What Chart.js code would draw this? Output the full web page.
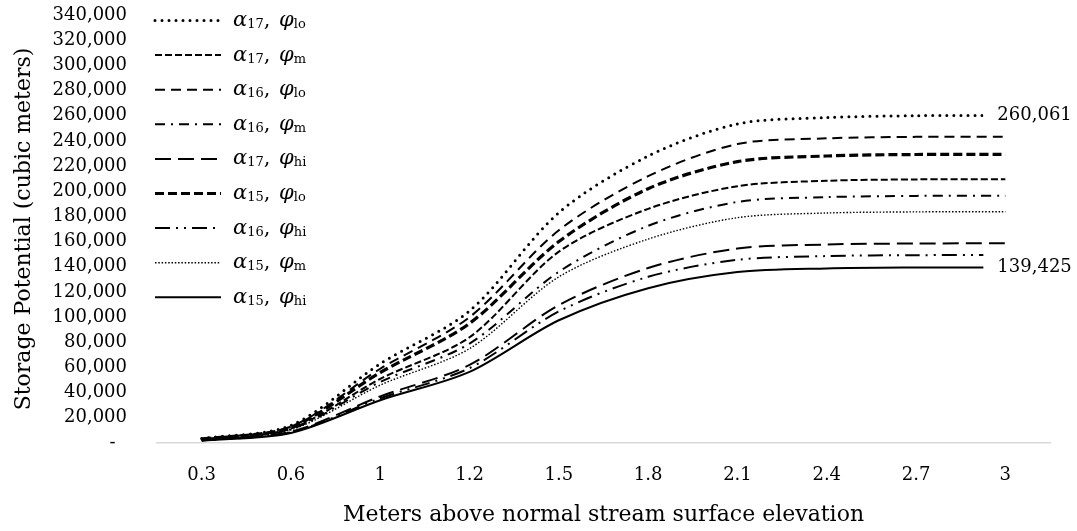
<!DOCTYPE html>
<html><head><meta charset="utf-8">
<script src="https://cdn.jsdelivr.net/npm/chart.js@4"></script>
<style>html,body{margin:0;padding:0;background:#fff}#wrap{width:1077px;height:531px}</style>
</head><body><div id="wrap"><canvas id="c" width="1077" height="531"></canvas></div>
<script>
// x categories: meters above normal stream surface elevation
const categories = ['0.3','0.6','1','1.2','1.5','1.8','2.1','2.4','2.7','3'];
// y tick range
const yMin = 0, yMax = 340000, yStep = 20000;
// legend subscripts (in legend order)
const alphaSubs = ['17','17','16','16','17','15','16','15','15'];
const phiSubs   = ['lo','m','lo','m','hi','lo','hi','m','hi'];
// series values (cubic meters)
const a17lo = [3500, 14000, 63000, 105000, 183000, 228000, 253500, 258500, 260000, 260061];
const a17m  = [2900, 11500, 51000,  84000, 152000, 186000, 204000, 208300, 209400, 209500];
const a16lo = [3300, 13000, 59000, 100000, 169000, 212000, 237500, 242000, 243200, 243300];
const a16m  = [2700, 11000, 48500,  79000, 136000, 172500, 191500, 195300, 196300, 196400];
const a17hi = [2200,  9000, 37000,  62000, 109500, 139000, 154500, 157700, 158500, 158600];
const a15lo = [3100, 12500, 56000,  95000, 160000, 202000, 223500, 228000, 229200, 229300];
const a16hi = [2000,  8500, 35500,  59500, 104500, 132000, 145500, 148500, 149200, 149300];
const a15m  = [2500, 10500, 46000,  75000, 132000, 162000, 179000, 182700, 183600, 183700];
const a15hi = [1800,  8000, 34000,  56500,  97500, 123000, 135800, 138700, 139400, 139425];
const seriesList = [a17lo, a17m, a16lo, a16m, a17hi, a15lo, a16hi, a15m, a15hi];
// series that get an end value label
const labeledSeries = [0, 8];

// line styles (per legend row)
const styles = [
  {w: 3,   dash: [0, 7],              cap: 'round'},
  {w: 2,   dash: [7, 3],              cap: 'butt'},
  {w: 2,   dash: [10, 6],             cap: 'butt'},
  {w: 2,   dash: [10, 6, 2, 6],       cap: 'butt'},
  {w: 2,   dash: [16, 7],             cap: 'butt'},
  {w: 3.2, dash: [9, 4],              cap: 'butt'},
  {w: 2,   dash: [15, 6, 2, 6, 2, 6], cap: 'butt'},
  {w: 1.4, dash: [1.5, 1.8],          cap: 'butt'},
  {w: 2,   dash: [],                  cap: 'butt'}
];

const FONT = '"DejaVu Serif", serif';

const datasets = seriesList.map((arr, i) => ({
  label: 'α' + alphaSubs[i] + ', φ' + phiSubs[i],
  data: arr,
  borderColor: '#000',
  backgroundColor: '#000',
  borderWidth: styles[i].w,
  borderDash: styles[i].dash,
  borderCapStyle: styles[i].cap,
  pointRadius: 0,
  pointHoverRadius: 0,
  tension: 0.3,
  fill: false
}));

const overlay = {
  id: 'overlay',
  afterDatasetsDraw(chart) {
    const ctx = chart.ctx;
    labeledSeries.forEach(di => {
      const meta = chart.getDatasetMeta(di);
      const last = meta.data.length - 1;
      const pt = meta.data[last];
      const val = chart.data.datasets[di].data[last];
      const txt = val.toLocaleString('en-US');
      ctx.save();
      ctx.fillStyle = '#fff';
      ctx.fillRect(pt.x - 22, pt.y - 15, 100, 26);
      ctx.font = '18px ' + FONT;
      ctx.fillStyle = '#000';
      ctx.textBaseline = 'middle';
      ctx.textAlign = 'left';
      ctx.fillText(txt, pt.x - 8, pt.y);
      ctx.restore();
    });
  },
  afterDraw(chart) {
    const ctx = chart.ctx;
    chart.data.datasets.forEach((ds, i) => {
      const y = 20.5 + i * 34.6;
      ctx.save();
      ctx.strokeStyle = ds.borderColor;
      ctx.lineWidth = ds.borderWidth;
      ctx.lineCap = ds.borderCapStyle;
      ctx.setLineDash(ds.borderDash);
      ctx.beginPath();
      ctx.moveTo(155, y);
      ctx.lineTo(221, y);
      ctx.stroke();
      ctx.restore();
      ctx.save();
      ctx.fillStyle = '#000';
      ctx.textAlign = 'left';
      ctx.textBaseline = 'alphabetic';
      const base = y + 5.5;
      let x = 233;
      ctx.font = 'italic 21px ' + FONT;
      ctx.fillText('α', x, base); x += ctx.measureText('α').width;
      ctx.font = '13px ' + FONT;
      ctx.fillText(alphaSubs[i], x, base + 2); x += ctx.measureText(alphaSubs[i]).width;
      ctx.font = '21px ' + FONT;
      ctx.fillText(', ', x, base); x += ctx.measureText(', ').width + 2;
      ctx.font = 'italic 21px ' + FONT;
      ctx.fillText('φ', x, base); x += ctx.measureText('φ').width;
      ctx.font = '13px ' + FONT;
      ctx.fillText(phiSubs[i], x, base + 2);
      ctx.restore();
    });
  }
};

new Chart(document.getElementById('c'), {
  type: 'line',
  data: { labels: categories, datasets },
  options: {
    responsive: false,
    animation: false,
    events: [],
    layout: { padding: { top: 15, right: 27, left: 0, bottom: 0 } },
    plugins: { legend: { display: false }, tooltip: { enabled: false } },
    scales: {
      x: {
        type: 'category',
        offset: true,
        grid: { display: false, drawTicks: false },
        border: { display: true, color: '#d9d9d9', width: 1.5 },
        ticks: { color: '#000', font: { family: FONT, size: 18 }, padding: 22, maxRotation: 0, autoSkip: false },
        title: { display: true, text: 'Meters above normal stream surface elevation', color: '#000',
                 font: { family: FONT, size: 22 }, padding: { top: 0, bottom: 3 } },
        afterFit: s => { s.height = 88; s.paddingLeft = 0; s.paddingRight = 0; }
      },
      y: {
        min: yMin, max: yMax,
        grid: { display: false, drawTicks: false },
        border: { display: false },
        ticks: { stepSize: yStep, color: '#000', font: { family: FONT, size: 18 }, padding: 30, autoSkip: false,
                 callback: v => v === 0 ? '-  ' : v.toLocaleString('en-US') },
        title: { display: true, text: 'Storage Potential (cubic meters)', color: '#000',
                 font: { family: FONT, size: 22 }, padding: { top: 11, bottom: 0 } },
        afterFit: s => { s.width = 157; s.paddingTop = 0; s.paddingBottom = 0; }
      }
    }
  },
  plugins: [overlay]
});
</script>
</body></html>
